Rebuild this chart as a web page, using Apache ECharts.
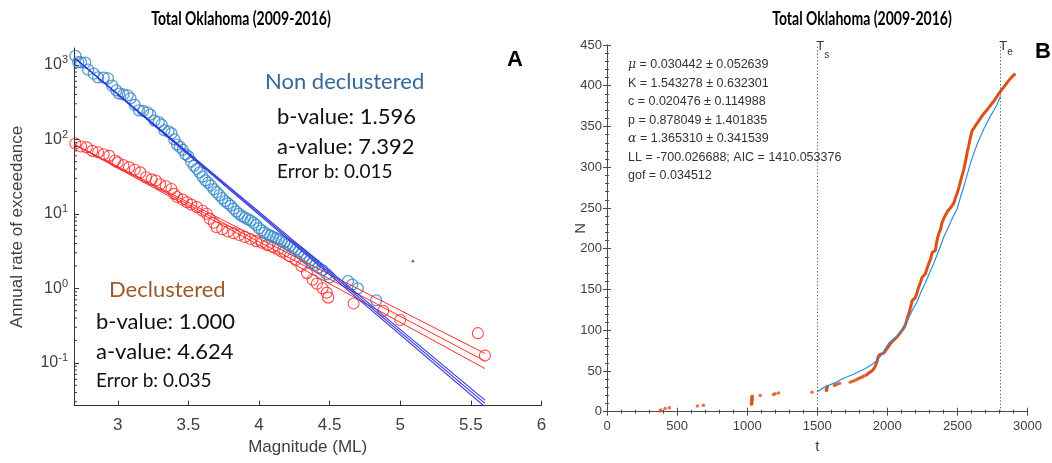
<!DOCTYPE html>
<html>
<head>
<meta charset="utf-8">
<script src="https://cdn.jsdelivr.net/npm/echarts@6/dist/echarts.min.js"></script>
<style>
html, body { margin: 0; padding: 0; background: #fff; }
#chart { width: 1052px; height: 463px; }
</style>
</head>
<body>
<div id="chart"></div>
<script>
// ---------- Panel A: frequency-magnitude distribution ----------
// [magnitude, annual rate of exceedance], full catalogue
const nonDeclustered = [
  [2.70,1320],[2.72,1090],[2.74,1080],[2.77,1070],[2.79,860],[2.83,760],[2.86,680],[2.90,675],
  [2.93,660],[2.96,525],[2.99,455],[3.01,410],[3.04,400],[3.07,390],[3.09,355],[3.12,290],
  [3.15,245],[3.18,240],[3.21,230],[3.23,215],[3.26,178],[3.29,170],[3.31,158],[3.33,132],
  [3.36,128],[3.38,120],[3.40,100],[3.42,85],[3.44,79],[3.46,72],[3.48,63],[3.50,59],
  [3.52,50],[3.54,44],[3.56,40],[3.58,36],[3.60,31.6],[3.62,28.2],[3.64,26.3],[3.66,24.0],
  [3.68,21.4],[3.70,19.5],[3.72,17.8],[3.74,16.2],[3.76,14.8],[3.78,13.8],[3.80,12.9],[3.82,11.7],
  [3.84,10.7],[3.86,10.0],[3.88,9.3],[3.90,8.9],[3.92,8.5],[3.94,8.1],[3.96,7.6],[3.98,7.1],
  [4.00,6.4],[4.02,6.0],[4.04,5.6],[4.06,5.3],[4.08,5.1],[4.10,4.9],[4.12,4.7],[4.14,4.5],
  [4.16,4.3],[4.18,4.1],[4.20,3.9],[4.22,3.7],[4.24,3.5],[4.26,3.3],[4.28,3.1],[4.30,2.9],
  [4.32,2.7],[4.34,2.5],[4.36,2.35],[4.38,2.2],[4.40,2.05],[4.42,1.9],[4.45,1.75],[4.48,1.55],
  [4.50,1.4],[4.63,1.25],[4.66,1.12],[4.70,1.0],[4.83,0.69]
];
// [magnitude, annual rate of exceedance], declustered catalogue
const declustered = [
  [2.70,88],[2.74,80],[2.78,78],[2.82,70],[2.86,67],[2.90,63],[2.94,60],[2.98,52],
  [3.00,49],[3.04,45],[3.08,42],[3.12,39],[3.16,36],[3.20,31],[3.24,29],[3.27,28],
  [3.30,25],[3.34,23.5],[3.38,21.5],[3.40,18.5],[3.42,16.8],[3.46,15.5],[3.49,14.3],[3.52,13.3],
  [3.56,12.3],[3.60,11.0],[3.63,10.0],[3.65,8.6],[3.68,7.6],[3.70,6.6],[3.74,6.2],[3.78,5.8],
  [3.82,5.5],[3.86,5.2],[3.90,4.9],[3.94,4.6],[3.98,4.3],[4.02,4.1],[4.06,3.8],[4.10,3.6],
  [4.14,3.4],[4.18,3.1],[4.22,2.7],[4.26,2.4],[4.30,2.0],[4.34,1.6],[4.38,1.3],[4.41,1.15],
  [4.45,1.0],[4.48,0.875],[4.49,0.75],[4.67,0.625],[4.88,0.5],[5.00,0.375],[5.55,0.25],[5.60,0.125]
];
const strayPoint = [[5.09, 2.3]];

// Gutenberg-Richter fits: log10(rate) = a - b*M
const aNonDecl = 7.392, bNonDecl = 1.596, errBNonDecl = 0.015;
const aDecl = 4.624, bDecl = 1.000, errBDecl = 0.035;
const fitMagRange = [2.7, 5.6];

const magTicks = [3, 3.5, 4, 4.5, 5, 5.5, 6];
const rateTicks = [0.1, 1, 10, 100, 1000];
const rateMinorTicks = [0.03,0.04,0.05,0.06,0.07,0.08,0.09,
  0.2,0.3,0.4,0.5,0.6,0.7,0.8,0.9, 2,3,4,5,6,7,8,9,
  20,30,40,50,60,70,80,90, 200,300,400,500,600,700,800,900];
const magMin = 2.69, magMax = 6;
const rateMin = 0.02655, rateMax = 1683;

// ---------- Panel B: cumulative number of events vs time ----------
// [t, N] observed events before and just after the fitting window start
const eventsSparse = [
  [380,1],[384,2],[415,4],[445,5],[645,7],[688,8],
  [1031,9],[1031,10],[1032,11],[1032,12],[1033,13],[1033,14],[1034,15],[1034,16],[1035,17],[1035,18],[1036,19],
  [1093,20],[1188,21],[1200,22],[1224,23],[1462,24],
  [1565,26],[1566,27],[1567,28],[1568,29],[1570,30],[1572,31],
  [1622,32],[1632,33],[1645,34],[1660,35],
  [1735,36],[1748,37],[1762,38],[1775,39],[1788,40],[1800,41],[1812,42],[1824,43],[1835,44]
];
// [t, N] observed cumulative count, dense part
const eventsDense = [
  [1845,44],[1855,46],[1870,48],[1890,50],[1905,53],[1914,56],[1924,58],[1928,62],[1933,67],
  [1945,70],[1960,71],[1975,72],[1986,74],[1995,77],[2009,80],[2025,84],[2045,88],[2060,90],
  [2075,93],[2093,97],[2110,101],[2125,105],[2135,110],[2141,114],[2150,119],[2158,123],
  [2164,127],[2170,131],[2176,136],[2185,138],[2200,140],[2210,145],[2218,150],[2224,153],
  [2235,158],[2248,165],[2260,167],[2271,169],[2280,174],[2290,179],[2298,183],[2310,188],
  [2319,195],[2330,196],[2343,198],[2350,206],[2358,213],[2366,218],[2380,224],[2390,232],
  [2400,236],[2414,241],[2430,246],[2450,250],[2474,256],[2485,262],[2498,268],[2510,275],
  [2521,282],[2532,289],[2545,297],[2555,305],[2564,313],[2572,320],[2581,327],[2592,336],
  [2605,345],[2618,348],[2629,351],[2645,355],[2664,360],[2680,364],[2700,368],[2718,372],
  [2736,376],[2755,380],[2771,384],[2790,389],[2807,393],[2825,397],[2843,401],[2860,405],
  [2879,409],[2895,412],[2914,415]
];
// [t, N] ETAS model expectation inside [Ts, Te]
const modelCurve = [
  [1500,24.5],[1530,28],[1569,31.5],[1620,35],[1688,41],[1760,46],[1843,53],[1890,58],
  [1926,63],[1960,70],[2009,84],[2050,90],[2093,97],[2125,106],[2152,115],[2180,125],
  [2212,135],[2240,147],[2271,158],[2300,170],[2331,182],[2365,197],[2402,214],[2426,223],
  [2460,236],[2498,249],[2520,262],[2545,276],[2570,291],[2593,305],[2617,317],[2640,328],
  [2665,338],[2688,347],[2712,355],[2736,363],[2760,370],[2783,377],[2807,387]
];
const Ts = 1500, Te = 2805;
const etasFit = [
  '{g|μ} = 0.030442 ± 0.052639',
  'K = 1.543278 ± 0.632301',
  'c = 0.020476 ± 0.114988',
  'p = 0.878049 ± 1.401835',
  '{g|α} = 1.365310 ± 0.341539',
  'LL = -700.026688; AIC = 1410.053376',
  'gof = 0.034512'
];

const titleText = 'Total Oklahoma (2009-2016)';

// ---------- helpers ----------
// straight G-R line on the log axis, pivoting at the lowest fitted magnitude
function grLine(a, b, slope) {
  const m0 = fitMagRange[0];
  const base = a - b * m0;
  return fitMagRange.map(m => [m, Math.pow(10, base - slope * (m - m0))]);
}
function lineSeries(data, color, width, xi, yi, z) {
  return {
    type: 'line', data: data, xAxisIndex: xi, yAxisIndex: yi, showSymbol: false,
    symbol: 'none', lineStyle: { color: color, width: width }, z: z || 2,
    silent: true, animation: false
  };
}

const helv = "'Liberation Sans', Arial, Helvetica, sans-serif";
const calib = "Lato, 'Open Sans', sans-serif";

const blueCircle = '#2f86c8';
const redCircle = '#ff1f1f';
const redLine = '#ff2a2a';
const blueLine = '#3434e0';
const orange = '#d95319';
const modelBlue = '#2f8fd6';
const axisA = '#333333';
const axisB = '#4a4a4a';

const chart = echarts.init(document.getElementById('chart'), null, { renderer: 'canvas' });

const option = {
  animation: false,
  backgroundColor: '#ffffff',
  grid: [
    { left: 74, top: 48, width: 467.4, height: 357.7, outerBoundsMode: 'none', containLabel: false },
    { left: 607, top: 45, right: 24.5, bottom: 51.3, outerBoundsMode: 'none', containLabel: false }
  ],
  xAxis: [
    {
      type: 'value', gridIndex: 0, min: magMin, max: magMax,
      name: 'Magnitude (ML)', nameLocation: 'middle', nameGap: 33, nameMoveOverlap: false,
      nameTextStyle: { fontFamily: helv, fontSize: 17, color: '#404040' },
      axisLine: { show: true, lineStyle: { color: axisA, width: 1 } },
      axisTick: { show: true, inside: true, length: 5, customValues: magTicks, lineStyle: { color: axisA } },
      axisLabel: { customValues: magTicks, fontFamily: helv, fontSize: 17, color: '#404040', margin: 11,
        formatter: v => String(v) },
      splitLine: { show: false }
    },
    {
      type: 'value', gridIndex: 1, min: 0, max: 3000, interval: 500,
      name: 't', nameLocation: 'middle', nameGap: 28, nameMoveOverlap: false,
      nameTextStyle: { fontFamily: helv, fontSize: 15, color: '#404040' },
      axisLine: { show: true, lineStyle: { color: axisB, width: 1 } },
      axisTick: { show: true, inside: true, length: 4, lineStyle: { color: axisB } },
      minorTick: { show: true, splitNumber: 5, length: 2, lineStyle: { color: axisB } },
      axisLabel: { fontFamily: helv, fontSize: 13, color: '#404040', margin: 8, formatter: v => String(v) },
      splitLine: { show: false }
    },
    {
      type: 'value', gridIndex: 1, min: 0, max: 3000, interval: 500, position: 'top',
      axisLine: { show: true, lineStyle: { color: axisB, width: 1 } },
      axisTick: { show: true, inside: true, length: 4, lineStyle: { color: axisB } },
      minorTick: { show: true, splitNumber: 5, length: 2, lineStyle: { color: axisB } },
      axisLabel: { show: false }, splitLine: { show: false }
    }
  ],
  yAxis: [
    {
      type: 'log', logBase: 10, gridIndex: 0, min: rateMin, max: rateMax,
      name: 'Annual rate of exceedance', nameLocation: 'middle', nameGap: 48, nameMoveOverlap: false,
      nameTextStyle: { fontFamily: helv, fontSize: 17, color: '#404040' },
      axisLine: { show: true, lineStyle: { color: axisA, width: 1 } },
      axisTick: { show: true, inside: true, length: 5, customValues: rateTicks, lineStyle: { color: axisA } },
      axisLabel: {
        customValues: rateTicks, margin: 6, color: '#404040',
        formatter: v => '{b|10}{s|' + Math.round(Math.log10(v)) + '}',
        rich: {
          b: { fontFamily: helv, fontSize: 16, color: '#404040' },
          s: { fontFamily: helv, fontSize: 11, color: '#404040', padding: [0, 0, 9, 0] }
        }
      },
      splitLine: { show: false }
    },
    {
      type: 'value', gridIndex: 1, min: 0, max: 450, interval: 50,
      name: 'N', nameLocation: 'middle', nameGap: 19, nameMoveOverlap: false,
      nameTextStyle: { fontFamily: helv, fontSize: 15, color: '#404040' },
      axisLine: { show: true, lineStyle: { color: axisB, width: 1 } },
      axisTick: { show: true, inside: true, length: 4, lineStyle: { color: axisB } },
      minorTick: { show: true, splitNumber: 5, length: 2, lineStyle: { color: axisB } },
      axisLabel: { fontFamily: helv, fontSize: 13, color: '#404040', margin: 5 },
      splitLine: { show: false }
    },
    {
      type: 'value', gridIndex: 1, min: 0, max: 450, interval: 50, position: 'right',
      axisLine: { show: true, lineStyle: { color: axisB, width: 1 } },
      axisTick: { show: true, inside: true, length: 4, lineStyle: { color: axisB } },
      minorTick: { show: true, splitNumber: 5, length: 2, lineStyle: { color: axisB } },
      axisLabel: { show: false }, splitLine: { show: false }
    }
  ],
  series: [
    {
      type: 'scatter', xAxisIndex: 0, yAxisIndex: 0, data: declustered,
      symbol: 'circle', symbolSize: 11, z: 2,
      itemStyle: { color: 'rgba(0,0,0,0)', borderColor: redCircle, borderWidth: 1.1 }
    },
    {
      type: 'scatter', xAxisIndex: 0, yAxisIndex: 0, data: nonDeclustered,
      symbol: 'circle', symbolSize: 11, z: 3,
      itemStyle: { color: 'rgba(0,0,0,0)', borderColor: blueCircle, borderWidth: 1.3 }
    },
    {
      type: 'scatter', xAxisIndex: 0, yAxisIndex: 0, data: strayPoint,
      symbol: 'circle', symbolSize: 2.5, z: 3, itemStyle: { color: '#2020d0' }
    },
    lineSeries(grLine(aDecl, bDecl, bDecl - errBDecl), redLine, 1, 0, 0, 4),
    lineSeries(grLine(aDecl, bDecl, bDecl), redLine, 1, 0, 0, 4),
    lineSeries(grLine(aDecl, bDecl, bDecl + errBDecl), redLine, 1, 0, 0, 4),
    lineSeries(grLine(aNonDecl, bNonDecl, bNonDecl - errBNonDecl), blueLine, 1.1, 0, 0, 5),
    lineSeries(grLine(aNonDecl, bNonDecl, bNonDecl), blueLine, 1.1, 0, 0, 5),
    lineSeries(grLine(aNonDecl, bNonDecl, bNonDecl + errBNonDecl), blueLine, 1.1, 0, 0, 5),
    {
      // logarithmic minor ticks on the rate axis
      type: 'custom', xAxisIndex: 0, yAxisIndex: 0, silent: true, z: 6,
      data: rateMinorTicks.map(v => [magMin, v]),
      renderItem: (params, api) => {
        const p = api.coord([api.value(0), api.value(1)]);
        return {
          type: 'line',
          shape: { x1: p[0], y1: p[1], x2: p[0] + 3, y2: p[1] },
          style: { stroke: axisA, lineWidth: 1 }
        };
      }
    },
    {
      type: 'scatter', xAxisIndex: 1, yAxisIndex: 1, data: eventsSparse,
      symbol: 'circle', symbolSize: 3.5, z: 3, itemStyle: { color: orange },
      markLine: {
        silent: true, symbol: 'none', animation: false,
        label: { show: false },
        lineStyle: { color: '#555', type: [1.2, 2.2], width: 1 },
        data: [{ xAxis: Ts }, { xAxis: Te }]
      }
    },
    lineSeries(eventsDense, orange, 3, 1, 1, 3),
    lineSeries(modelCurve, modelBlue, 1.2, 1, 1, 4)
  ]
};

chart.setOption(option);

// ---------- text annotations ----------
function txt(x, y, text, size, color, family, weight, align, extra, scaleX) {
  const style = Object.assign({
    text: text, fontSize: size, fontFamily: family, fontWeight: weight || 'normal',
    fill: color, align: align || 'left', verticalAlign: 'middle'
  }, extra || {});
  return { type: 'text', x: x, y: y, scaleX: scaleX || 1, silent: true, z: 50, style: style };
}

const tsX = chart.convertToPixel({ xAxisIndex: 1 }, Ts);
const teX = chart.convertToPixel({ xAxisIndex: 1 }, Te);

const graphics = [
  txt(241, 19, titleText, 18, '#000', calib, 'bold', 'center', null, 0.78),
  txt(862, 19, titleText, 18, '#000', calib, 'bold', 'center', null, 0.78),
  txt(515, 60, 'A', 22, '#000', helv, 'bold', 'center'),
  txt(1043, 52, 'B', 22, '#000', helv, 'bold', 'center'),

  txt(265, 82, 'Non declustered', 22, '#34689a', calib),
  txt(277, 117, 'b-value: ' + bNonDecl.toFixed(3), 22, '#111', calib),
  txt(277, 147, 'a-value: ' + aNonDecl.toFixed(3), 22, '#111', calib),
  txt(277, 172, 'Error b: ' + errBNonDecl.toFixed(3), 19, '#111', calib),

  txt(109, 290, 'Declustered', 22, '#9a5a2e', calib),
  txt(96, 322, 'b-value: ' + bDecl.toFixed(3), 22, '#111', calib),
  txt(96, 352, 'a-value: ' + aDecl.toFixed(3), 22, '#111', calib),
  txt(96, 381, 'Error b: ' + errBDecl.toFixed(3), 19, '#111', calib),

  txt(tsX - 1, 46, 'T', 13, '#333', helv),
  txt(tsX + 7, 55, 's', 10, '#333', helv),
  txt(teX - 1, 46, 'T', 13, '#333', helv),
  txt(teX + 7, 52, 'e', 10, '#333', helv)
];
etasFit.forEach((line, i) => {
  graphics.push(txt(628, 65 + i * 18.5, line, 12.5, '#333', helv, 'normal', 'left', {
    rich: { g: { fontFamily: "'DejaVu Serif', serif", fontStyle: 'italic', fontSize: 12.5, fill: '#333' } }
  }));
});

chart.setOption({ graphic: graphics });
</script>
</body>
</html>
